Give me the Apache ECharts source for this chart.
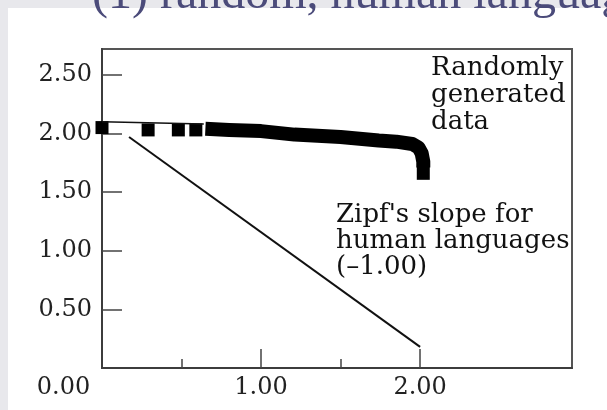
<!DOCTYPE html>
<html><head><meta charset="utf-8">
<script src="https://cdn.jsdelivr.net/npm/echarts@6/dist/echarts.min.js"></script>
<style>
html,body{margin:0;padding:0;background:#e8e8ec;overflow:hidden;}
#panel{position:absolute;left:8px;top:8px;width:599px;height:402px;background:#fff;}
#chart{position:absolute;left:0;top:0;width:607px;height:410px;}
</style></head><body>
<div id="panel"></div><div id="chart"></div>
<script>
// ---- data ----
const titleText = '(1) random, human languages';
const xTickLabels = [0, 1, 2];
const xMajorTicks = [1, 2];
const xMinorTicks = [0.5, 1.5];
const yTickLabels = [0.5, 1, 1.5, 2, 2.5];
const randomSquaresX = [0.00, 0.29, 0.48, 0.59, 2.02];
const randomSquaresY = [2.05, 2.03, 2.03, 2.03, 1.66];
const randomBandX = [0.65, 0.80, 1.00, 1.21, 1.50, 1.74, 1.85, 1.95, 1.99, 2.01, 2.02, 2.02];
const randomBandY = [2.04, 2.03, 2.02, 1.99, 1.97, 1.94, 1.93, 1.91, 1.88, 1.83, 1.76, 1.71];
const fitX = [0.00, 0.64];
const fitY = [2.10, 2.08];
const zipfX = [0.17, 2.00];
const zipfY = [1.97, 0.18];
const randomNote = 'Randomly\ngenerated\ndata';
const zipfNote = "Zipf's slope for\nhuman languages\n(\u20131.00)";

const pairs = (xs, ys) => xs.map((x, i) => [x, ys[i]]);
const SERIF = '"DejaVu Serif", serif';
const axisCol = '#3c3c3c';

const chart = echarts.init(document.getElementById('chart'), null, {renderer: 'canvas'});
chart.setOption({
  animation: false,
  backgroundColor: 'transparent',
  grid: {left: 102, right: 35, top: 49, bottom: 42, show: true, borderColor: '#555', borderWidth: 2, containLabel: false},
  xAxis: [{
    type: 'value', min: 0, max: 2.955,
    axisLine: {show: true, lineStyle: {color: axisCol, width: 2}},
    axisTick: {show: true, inside: true, length: 19, customValues: xMajorTicks, lineStyle: {color: '#444', width: 1.5}},
    axisLabel: {
      customValues: xTickLabels, fontSize: 24, fontFamily: SERIF, color: '#222', margin: 8,
      formatter: v => v === 0 ? '{c|0.00}' : v.toFixed(2),
      rich: {c: {padding: [0, 77, 0, 0], fontSize: 24, fontFamily: SERIF, color: '#222'}}
    },
    splitLine: {show: false}
  }, {
    type: 'value', min: 0, max: 2.955, position: 'bottom',
    axisLine: {show: false},
    axisTick: {show: true, inside: true, length: 9, customValues: xMinorTicks, lineStyle: {color: '#444', width: 1.5}},
    axisLabel: {show: false},
    splitLine: {show: false}
  }],
  yAxis: {
    type: 'value', min: 0, max: 2.72,
    axisLine: {show: true, lineStyle: {color: axisCol, width: 2}},
    axisTick: {show: true, inside: true, length: 20, customValues: yTickLabels, lineStyle: {color: '#444', width: 1.5}},
    axisLabel: {customValues: yTickLabels, fontSize: 24, fontFamily: SERIF, color: '#222', margin: 10,
      formatter: v => v.toFixed(2)},
    splitLine: {show: false}
  },
  series: [
    {type: 'line', name: 'Zipf', data: pairs(zipfX, zipfY), symbol: 'none',
     lineStyle: {color: '#111', width: 2}},
    {type: 'line', name: 'fit', data: pairs(fitX, fitY), symbol: 'none',
     lineStyle: {color: '#111', width: 1.5}},
    {type: 'line', name: 'random band', data: pairs(randomBandX, randomBandY), symbol: 'none',
     lineStyle: {color: '#000', width: 14, cap: 'butt', join: 'round'}},
    {type: 'scatter', name: 'random points', data: pairs(randomSquaresX, randomSquaresY),
     symbol: 'rect', symbolSize: 13, itemStyle: {color: '#000', opacity: 1}}
  ],
  graphic: [
    {type: 'text', x: 92, y: -29, style: {text: titleText, font: '48px "Liberation Serif", serif', fill: '#4b4b7a', verticalAlign: 'top'}},
    {type: 'text', x: 431, y: 55, style: {text: randomNote, font: '26px "DejaVu Serif", serif', lineHeight: 27, fill: '#111', verticalAlign: 'top'}},
    {type: 'text', x: 336, y: 202, style: {text: zipfNote, font: '26px "DejaVu Serif", serif', lineHeight: 26, fill: '#111', verticalAlign: 'top'}}
  ]
});
</script>
</body></html>
